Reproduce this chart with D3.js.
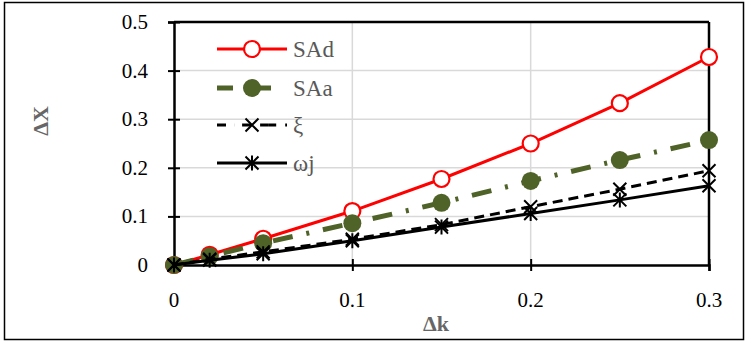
<!DOCTYPE html>
<html><head><meta charset="utf-8">
<script src="https://cdn.jsdelivr.net/npm/d3@7"></script>
</head><body style="margin:0">
<script>
const xs = [0, 0.02, 0.05, 0.1, 0.15, 0.2, 0.25, 0.3];
const SAd = [0, 0.021, 0.054, 0.111, 0.177, 0.25, 0.333, 0.428];
const SAa = [0, 0.018, 0.045, 0.086, 0.128, 0.173, 0.216, 0.257];
const xi  = [0, 0.012, 0.027, 0.053, 0.083, 0.12, 0.156, 0.194];
const wj  = [0, 0.010, 0.023, 0.050, 0.078, 0.106, 0.134, 0.163];
const seriesNames = ["SAd", "SAa", "ξ", "ωj"];
const xTicks = [0, 0.1, 0.2, 0.3];
const yTicks = [0, 0.1, 0.2, 0.3, 0.4, 0.5];

const svg = d3.select("body").append("svg").attr("width", 747).attr("height", 342);
const F = "Liberation Serif";

const x = d3.scaleLinear().domain([0, 0.3]).range([174, 709]);
const y = d3.scaleLinear().domain([0, 0.5]).range([265, 22]);
const fmt = d => d === 0 ? "0" : d3.format(".1f")(d);

function txt(px, py, s, size, fill, anchor, bold, transform) {
  const t = svg.append("text");
  if (transform) t.attr("transform", transform); else t.attr("x", px).attr("y", py);
  t.style("font-family", `"${F}"`).attr("font-size", size).attr("fill", fill).attr("text-anchor", anchor);
  if (bold) t.attr("font-weight", "bold");
  t.text(s);
  return t;
}

// outer border
svg.append("rect").attr("x", 4.5).attr("y", 2.5).attr("width", 739).attr("height", 337)
  .attr("fill", "none").attr("stroke", "#000").attr("stroke-width", 1.5);

// gridlines
svg.append("g").selectAll("line").data(yTicks.slice(1)).join("line")
  .attr("x1", x(0)).attr("x2", x(0.3)).attr("y1", d => y(d)).attr("y2", d => y(d))
  .attr("stroke", "#d9d9d9").attr("stroke-width", 1.5);
svg.append("g").selectAll("line").data(xTicks.slice(1)).join("line")
  .attr("y1", y(0)).attr("y2", y(0.5)).attr("x1", d => x(d)).attr("x2", d => x(d))
  .attr("stroke", "#d9d9d9").attr("stroke-width", 1.5);

// frame
svg.append("line").attr("x1", x(0)).attr("x2", x(0.3)).attr("y1", y(0.5)).attr("y2", y(0.5)).attr("stroke", "#000").attr("stroke-width", 2.5);
svg.append("line").attr("x1", x(0.3)).attr("x2", x(0.3)).attr("y1", y(0)).attr("y2", y(0.5)).attr("stroke", "#000").attr("stroke-width", 2.5);

// axes
const yAxis = svg.append("g").attr("transform", `translate(${x(0)},0)`)
  .call(d3.axisLeft(y).tickValues(yTicks).tickFormat("").tickSize(6));
yAxis.select(".domain").attr("stroke-width", 2.5);
yAxis.selectAll(".tick line").attr("x2", 6).attr("x1", -6).attr("stroke-width", 2);
yAxis.selectAll(".tick text").remove();

const xAxis = svg.append("g").attr("transform", `translate(0,${y(0)})`)
  .call(d3.axisBottom(x).tickValues(xTicks).tickFormat("").tickSize(6));
xAxis.select(".domain").attr("stroke-width", 2.5);
xAxis.selectAll(".tick line").attr("y1", -6).attr("y2", 6).attr("stroke-width", 2);
xAxis.selectAll(".tick text").remove();

yTicks.forEach(t => txt(x(0) - 26, y(t) + 7, fmt(t), 21, "#000", "end"));
xTicks.forEach(t => txt(x(t), y(0) + 42, fmt(t), 21, "#000", "middle"));

// titles
txt(0, 0, "ΔX", 22, "#666", "middle", true, "translate(48,121) rotate(-90)");
txt(436, 331, "Δk", 22, "#666", "middle", true);

const olive = "#4F6228";
const styles = [
  {data: SAd, color: "#ff0000", width: 3, dash: null, marker: "circleOpen"},
  {data: SAa, color: olive, width: 5, dash: "20,14,3,14", marker: "circleFill"},
  {data: xi, color: "#000", width: 3, dash: "10,6", marker: "x"},
  {data: wj, color: "#000", width: 3, dash: null, marker: "star"},
];
const line = d3.line().x((d, i) => x(xs[i])).y(d => y(d));

function drawMarker(g, m, cx, cy, color) {
  if (m === "circleOpen") {
    g.append("circle").attr("cx", cx).attr("cy", cy).attr("r", 8).attr("fill", "#fff").attr("stroke", color).attr("stroke-width", 2.2);
  } else if (m === "circleFill") {
    g.append("circle").attr("cx", cx).attr("cy", cy).attr("r", 9).attr("fill", color);
  } else if (m === "x") {
    const s = 6.5;
    g.append("path").attr("d", `M${cx-s},${cy-s}L${cx+s},${cy+s}M${cx-s},${cy+s}L${cx+s},${cy-s}`).attr("stroke", color).attr("stroke-width", 2).attr("fill", "none");
  } else if (m === "star") {
    const s = 6.5;
    g.append("path").attr("d", `M${cx-s},${cy-s}L${cx+s},${cy+s}M${cx-s},${cy+s}L${cx+s},${cy-s}M${cx},${cy-s-1}L${cx},${cy+s+1}`).attr("stroke", color).attr("stroke-width", 2).attr("fill", "none");
  }
}

const plot = svg.append("g");
styles.forEach(s => {
  plot.append("path").datum(s.data).attr("d", line).attr("fill", "none")
    .attr("stroke", s.color).attr("stroke-width", s.width).attr("stroke-dasharray", s.dash);
  const g = plot.append("g");
  s.data.forEach((v, i) => drawMarker(g, s.marker, x(xs[i]), y(v), s.color));
});

// legend
const legY = [49, 88, 125, 163];
const legDash = [null, "16,22,16", "9,8,0.1,8,9", null];
const leg = svg.append("g");
styles.forEach((s, i) => {
  const yy = legY[i];
  leg.append("line").attr("x1", 217).attr("x2", 287).attr("y1", yy).attr("y2", yy)
    .attr("stroke", s.color).attr("stroke-width", s.width).attr("stroke-dasharray", legDash[i]);
  drawMarker(leg, s.marker, 252, yy, s.color);
  txt(293, yy + 8, seriesNames[i], 23, "#595959", "start");
});
</script>
</body></html>
